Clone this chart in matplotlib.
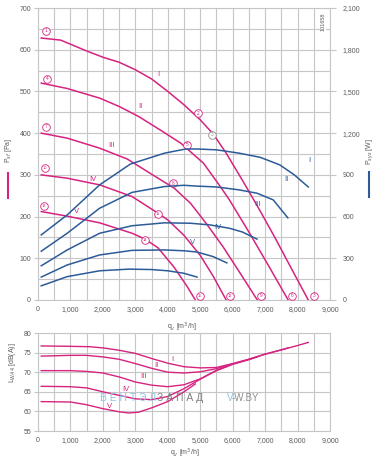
import numpy as np
import matplotlib.pyplot as plt
from matplotlib.ticker import MultipleLocator, FuncFormatter
from matplotlib.lines import Line2D

plt.rcParams['font.family'] = ['Liberation Sans', 'DejaVu Sans']

PINK = '#d6237f'
BLUE = '#2d5b98'
GRID = '#c6c6c6'
TXT = '#5a5a5a'

speeds = ['I', 'II', 'III', 'IV', 'V']

# static pressure curves P_sf [Pa] over airflow q_v [m3/h]
p_q = [
    [100, 700, 1500, 2000, 2500, 3000, 3500, 4000, 4500, 5000, 5400, 5800, 6300, 6800, 7300, 7800, 8330],
    [100, 900, 1900, 2500, 3100, 3800, 4400, 5100, 5600, 5900, 6500, 7100, 7710],
    [100, 900, 1900, 2750, 3700, 4200, 4700, 5200, 5700, 6200, 6760],
    [100, 900, 1900, 2900, 3700, 4000, 4500, 5000, 5400, 5800],
    [100, 900, 1900, 2900, 3300, 3700, 4200, 4600, 4850],
]
p_val = [
    [628, 623, 597, 582, 570, 552, 530, 500, 468, 432, 398, 352, 287, 220, 150, 77, 0],
    [520, 507, 484, 464, 440, 406, 376, 328, 274, 240, 163, 83, 0],
    [400, 388, 364, 338, 292, 268, 232, 182, 128, 68, 0],
    [300, 292, 276, 248, 208, 192, 155, 107, 57, 0],
    [212, 201, 185, 160, 146, 125, 78, 32, 0],
]

# power input curves P_sys [W]
w_q = [
    [100, 900, 1900, 2850, 3900, 4550, 4900, 5500, 6200, 6850, 7450, 7900, 8330],
    [100, 900, 1900, 2900, 3900, 4500, 4900, 5500, 6200, 6750, 7250, 7700],
    [100, 900, 1900, 2900, 3900, 4700, 5300, 5900, 6300, 6750],
    [100, 900, 1900, 2900, 3900, 4500, 4900, 5400, 5820],
    [100, 900, 1900, 2800, 3500, 4000, 4500, 4900],
]
w_val = [
    [468, 612, 828, 978, 1056, 1086, 1086, 1080, 1056, 1026, 972, 900, 813],
    [351, 480, 660, 774, 816, 825, 819, 813, 792, 768, 720, 591],
    [246, 360, 480, 534, 555, 552, 540, 516, 489, 438],
    [165, 252, 324, 357, 360, 354, 345, 312, 267],
    [102, 168, 210, 222, 219, 210, 192, 165],
]

# sound power level L_WA4 [dB(A)]
l_q = [
    [100, 1000, 1600, 2000, 2500, 3000, 3500, 4000, 4500, 5000, 5500, 6000, 6500, 7000, 7500, 8000, 8330],
    [100, 1000, 1500, 2000, 2500, 3000, 3500, 4000, 4500, 5000, 5500, 6000, 6500, 7000, 7500, 7710],
    [100, 1000, 1500, 2000, 2500, 3000, 3500, 4000, 4500, 5000, 5500, 6000, 6500, 6760],
    [100, 1000, 1500, 2000, 2500, 3000, 3500, 4000, 4500, 5000, 5500, 5800],
    [100, 1000, 1500, 2000, 2500, 2800, 3100, 3500, 4000, 4500, 4850],
]
l_val = [
    [76.7, 76.6, 76.5, 76.2, 75.6, 74.8, 73.5, 72.3, 71.4, 71.1, 71.2, 72.2, 73.3, 74.6, 75.7, 76.8, 77.6],
    [74.1, 74.3, 74.3, 73.9, 73.3, 72.2, 71.0, 70.0, 69.8, 70.1, 70.9, 72.1, 73.3, 74.6, 75.7, 76.2],
    [70.4, 70.4, 70.2, 69.8, 68.8, 67.5, 66.7, 66.3, 66.8, 68.3, 70.4, 72.0, 73.2, 73.9],
    [66.4, 66.3, 66.0, 65.0, 64.1, 63.2, 63.0, 63.8, 65.8, 68.2, 70.5, 71.4],
    [62.5, 62.4, 61.7, 60.7, 59.9, 59.6, 59.8, 60.9, 62.5, 65.0, 67.0],
]

# label spots for the roman numerals
p_lab_q = [3700, 3150, 2250, 1700, 1200]
p_lab_v = [540, 465, 370, 290, 212]
w_lab_q = [8350, 7650, 6750, 5550, 4750]
w_lab_v = [1005, 870, 690, 519, 417]
l_lab_q = [4150, 3650, 3250, 2700, 2200]
l_lab_v = [73.3, 71.6, 69.0, 65.5, 61.3]

# circled operating points
pt_num = ['1', '4', '7', '10', '13', '2', '5', '8', '11', '14', '3', '6', '9', '12', '15', '3']
pt_q = [237, 277, 247, 216, 185, 4930, 4590, 4160, 3700, 3300, 8510, 7830, 6870, 5920, 4990, 5360]
pt_v = [646, 530, 415, 316, 225, 448, 372, 280, 206, 144, 10, 10, 10, 10, 10, 396]
pt_gray = [False] * 15 + [True]

fmt = FuncFormatter(lambda v, pos: f'{int(round(v)):,}')

fig = plt.figure(figsize=(3.8, 4.61), dpi=100)

def style(ax):
    ax.set_xlim(0, 9000)
    ax.xaxis.set_major_locator(MultipleLocator(1000))
    ax.xaxis.set_minor_locator(MultipleLocator(500))
    ax.xaxis.set_major_formatter(fmt)
    ax.grid(which='both', color=GRID, lw=0.8)
    ax.set_axisbelow(True)
    for s in ax.spines.values():
        s.set_color(GRID)
        s.set_linewidth(0.8)
    ax.tick_params(axis='both', which='both', labelsize=5, labelcolor=TXT, color=GRID, width=0.8)
    ax.tick_params(axis='x', which='both', length=0, pad=4)
    ax.tick_params(axis='y', which='major', length=3, pad=2)
    ax.tick_params(axis='y', which='minor', length=0)

# --- top chart: pressure + power
ax = fig.add_axes([38 / 380, 1 - 300 / 461, 292 / 380, 292 / 461])
style(ax)
ax.set_ylim(0, 700)
ax.yaxis.set_major_locator(MultipleLocator(100))
ax.yaxis.set_minor_locator(MultipleLocator(50))

ax2 = ax.twinx()
ax2.set_ylim(0, 2100)
ax2.yaxis.set_major_locator(MultipleLocator(300))
ax2.yaxis.set_major_formatter(fmt)
ax2.tick_params(axis='y', labelsize=5, labelcolor=TXT, color=GRID, width=0.8, length=4, pad=5)
for s in ax2.spines.values():
    s.set_visible(False)

for i in range(5):
    ax.plot(p_q[i], p_val[i], color=PINK, lw=1.1, zorder=3)
    ax2.plot(w_q[i], w_val[i], color=BLUE, lw=1.1, zorder=3)
    ax.text(p_lab_q[i], p_lab_v[i], speeds[i], color=PINK, fontsize=5.5, ha='center', va='center')
    ax2.text(w_lab_q[i], w_lab_v[i], speeds[i], color=BLUE, fontsize=5.5, ha='center', va='center')

for n, q, v, g in zip(pt_num, pt_q, pt_v, pt_gray):
    c = '#8a8a8a' if g else PINK
    ax.scatter([q], [v], s=30, facecolor='white', edgecolor=c, lw=0.6, zorder=5, clip_on=False)
    ax.text(q, v, n, color=c, fontsize=2.8 if len(n) > 1 else 3.4,
            ha='center', va='center', zorder=6)

ax.text(0.985, 0.985, '101658', transform=ax.transAxes, rotation=90, fontsize=4,
        color=TXT, ha='right', va='top',
        bbox=dict(facecolor='white', edgecolor='none', pad=0.5))

ax.text(0.493, -0.07, 'q$_v$ [m$^3$/h]', transform=ax.transAxes, fontsize=5, color=TXT,
        ha='center', va='top')

fig.text(9 / 380, 1 - 150 / 461, 'P$_{sf}$ [Pa]', rotation=90, fontsize=5, color=TXT,
         ha='center', va='center')
fig.add_artist(Line2D([8 / 380, 8 / 380], [1 - 173 / 461, 1 - 198 / 461], color=PINK, lw=1.5))
fig.text(370 / 380, 1 - 152 / 461, 'P$_{sys}$ [W]', rotation=90, fontsize=5, color=TXT,
         ha='center', va='center')
fig.add_artist(Line2D([369 / 380, 369 / 380], [1 - 172 / 461, 1 - 197 / 461], color=BLUE, lw=1.5))

# --- bottom chart: sound power
bx = fig.add_axes([38 / 380, 1 - 431 / 461, 292 / 380, 98 / 461])
style(bx)
bx.set_ylim(55, 80)
bx.yaxis.set_major_locator(MultipleLocator(5))
for i in range(5):
    bx.plot(l_q[i], l_val[i], color=PINK, lw=1.0, zorder=3)
    bx.text(l_lab_q[i], l_lab_v[i], speeds[i], color=PINK, fontsize=5.5, ha='center', va='center')

fig.text(185 / 380, 1 - 453 / 461, 'q$_v$ [m$^3$/h]', fontsize=5, color=TXT,
         ha='center', va='center')
fig.text(13 / 380, 1 - 363 / 461, 'L$_{WA4}$ [dB(A)]', rotation=90, fontsize=5, color=TXT,
         ha='center', va='center')

# watermark
fig.text(100 / 380, 1 - 398 / 461, 'В Е Н Т Э Л', fontsize=7.5, color='#8cc4ea', va='center')
fig.text(157 / 380, 1 - 398 / 461, 'З А П А Д', fontsize=7.5, color='#808080', va='center')
fig.text(227 / 380, 1 - 398 / 461, 'V', fontsize=7, color='#8cc4ea', va='center')
fig.text(232 / 380, 1 - 398 / 461, '-W.BY', fontsize=7, color='#909090', va='center')

fig.savefig('out.png', dpi=100)
